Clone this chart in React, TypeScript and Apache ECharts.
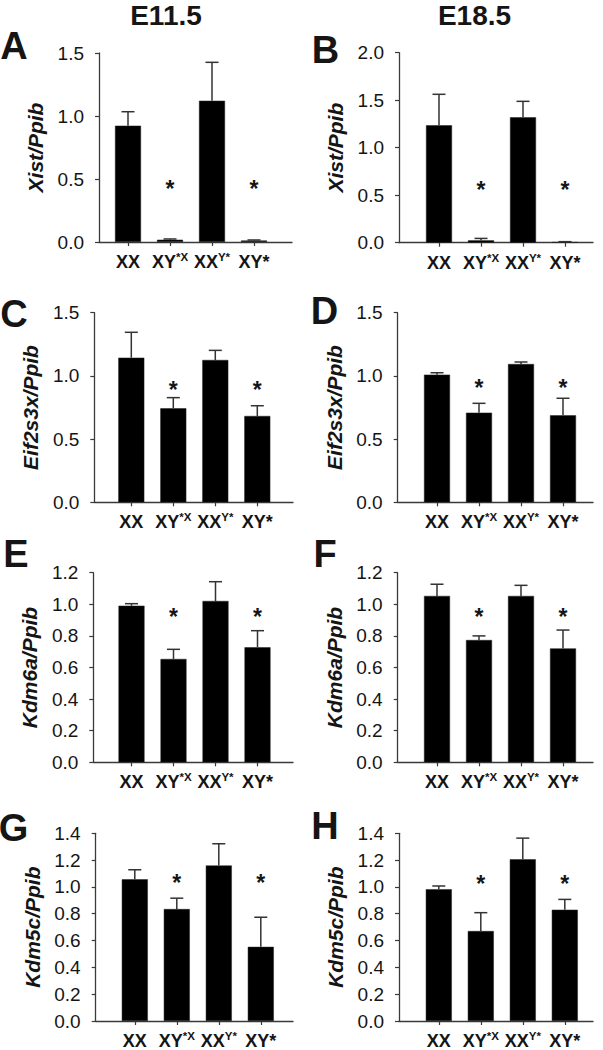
import React, { useEffect, useRef } from "react";
import * as echarts from "echarts";

// ---------- DATA ----------
const categoryBase = ["XX", "XY", "XX", "XY*"];
const categorySup = ["", "*X", "Y*", ""];
const categoryPos = [1, 2, 3, 4];
const starred = [false, true, false, true];

const columnTitles = ["E11.5", "E18.5"];
const panelLetters = ["A", "B", "C", "D", "E", "F", "G", "H"];
const yNames = [
  "Xist/Ppib",
  "Xist/Ppib",
  "Eif2s3x/Ppib",
  "Eif2s3x/Ppib",
  "Kdm6a/Ppib",
  "Kdm6a/Ppib",
  "Kdm5c/Ppib",
  "Kdm5c/Ppib",
];
const yMax = [1.5, 2.0, 1.5, 1.5, 1.2, 1.2, 1.4, 1.4];
const yStep = [0.5, 0.5, 0.5, 0.5, 0.2, 0.2, 0.2, 0.2];

// means and error-bar tops (mean + SEM)
const xistE11Mean = [0.923, 0.018, 1.121, 0.012];
const xistE11Top = [1.034, 0.024, 1.426, 0.016];
const xistE18Mean = [1.236, 0.025, 1.32, 0.007];
const xistE18Top = [1.562, 0.045, 1.488, 0.011];
const eifE11Mean = [1.144, 0.744, 1.126, 0.683];
const eifE11Top = [1.345, 0.828, 1.202, 0.764];
const eifE18Mean = [1.01, 0.709, 1.094, 0.688];
const eifE18Top = [1.025, 0.783, 1.11, 0.823];
const kdm6aE11Mean = [0.991, 0.654, 1.021, 0.728];
const kdm6aE11Top = [1.004, 0.715, 1.143, 0.833];
const kdm6aE18Mean = [1.053, 0.774, 1.053, 0.721];
const kdm6aE18Top = [1.127, 0.8, 1.12, 0.837];
const kdm5cE11Mean = [1.057, 0.835, 1.16, 0.553];
const kdm5cE11Top = [1.128, 0.916, 1.322, 0.774];
const kdm5cE18Mean = [0.983, 0.671, 1.206, 0.83];
const kdm5cE18Top = [1.007, 0.808, 1.364, 0.907];

// height (in axis units) of the significance asterisks per panel
const starLevel = [0.46, 0.607, 0.928, 0.946, 0.953, 0.953, 1.069, 1.061];

const panelMeans = [
  xistE11Mean,
  xistE18Mean,
  eifE11Mean,
  eifE18Mean,
  kdm6aE11Mean,
  kdm6aE18Mean,
  kdm5cE11Mean,
  kdm5cE18Mean,
];
const panelTops = [
  xistE11Top,
  xistE18Top,
  eifE11Top,
  eifE18Top,
  kdm6aE11Top,
  kdm6aE18Top,
  kdm5cE11Top,
  kdm5cE18Top,
];

// ---------- LAYOUT ----------
const layout = [
  { left: 99, top: 53, right: 292, bottom: 242, c1: 128 },
  { left: 399, top: 52.7, right: 593, bottom: 242.7, c1: 439 },
  { left: 94.3, top: 312.7, right: 293, bottom: 502.3, c1: 131.3 },
  { left: 397.7, top: 312.7, right: 593, bottom: 502.3, c1: 437 },
  { left: 93.3, top: 572.7, right: 293, bottom: 762.3, c1: 131.5 },
  { left: 397.7, top: 572.7, right: 593, bottom: 762.3, c1: 437 },
  { left: 95.7, top: 833.3, right: 293, bottom: 1023.3, c1: 134.8 },
  { left: 399, top: 833.3, right: 593, bottom: 1023.3, c1: 438.8 },
];
const catSpacing = 42;
const titlePos = [
  [166, 15],
  [474.5, 15],
];
const letterPos = [
  [14, 45.5],
  [325.5, 50],
  [14, 313.5],
  [324.5, 311],
  [16, 554],
  [325, 554],
  [13.5, 827.5],
  [325, 826],
];

const FONT = "Liberation Sans, Arial, sans-serif";
const AXIS_COLOR = "#3a3a3a";
const TEXT_COLOR = "#151515";

function buildOption() {
  const grid: any[] = [];
  const xAxis: any[] = [];
  const yAxis: any[] = [];
  const series: any[] = [];
  const graphic: any[] = [];

  layout.forEach((L, i) => {
    const width = L.right - L.left;
    const xmin = 1 - (L.c1 - L.left) / catSpacing;
    const xmax = xmin + width / catSpacing;
    grid.push({
      left: L.left,
      top: L.top,
      width,
      height: L.bottom - L.top,
    });
    xAxis.push({
      type: "value",
      gridIndex: i,
      min: xmin,
      max: xmax,
      splitLine: { show: false },
      axisLine: { show: true, onZero: false, lineStyle: { color: AXIS_COLOR, width: 1.3 } },
      axisTick: {
        show: true,
        customValues: categoryPos,
        length: 4,
        lineStyle: { color: AXIS_COLOR, width: 1.2 },
      },
      axisLabel: {
        customValues: categoryPos,
        margin: 9,
        formatter: (v: number) => {
          const k = categoryPos.indexOf(Math.round(v));
          if (k < 0) return "";
          return categorySup[k]
            ? `{m|${categoryBase[k]}}{s|${categorySup[k]}}`
            : `{m|${categoryBase[k]}}`;
        },
        rich: {
          m: {
            fontSize: 18,
            fontWeight: "bold",
            fontFamily: FONT,
            color: TEXT_COLOR,
            lineHeight: 22,
          },
          s: {
            fontSize: 11.5,
            fontWeight: "bold",
            fontFamily: FONT,
            color: TEXT_COLOR,
            lineHeight: 14,
            verticalAlign: "top",
          },
        },
      },
    });
    yAxis.push({
      type: "value",
      gridIndex: i,
      min: 0,
      max: yMax[i],
      interval: yStep[i],
      name: yNames[i],
      nameLocation: "middle",
      nameRotate: 90,
      nameGap: 53,
      nameTextStyle: {
        fontSize: 21,
        fontWeight: "bold",
        fontStyle: "italic",
        fontFamily: FONT,
        color: TEXT_COLOR,
      },
      splitLine: { show: false },
      axisLine: { show: true, onZero: false, lineStyle: { color: AXIS_COLOR, width: 1.3 } },
      axisTick: { show: true, length: 4, lineStyle: { color: AXIS_COLOR, width: 1.2 } },
      axisLabel: {
        margin: 15,
        fontSize: 19,
        fontFamily: FONT,
        color: TEXT_COLOR,
        formatter: (v: number) => v.toFixed(1),
      },
    });

    const means = panelMeans[i];
    const tops = panelTops[i];
    series.push({
      type: "bar",
      xAxisIndex: i,
      yAxisIndex: i,
      barWidth: 26,
      itemStyle: { color: "#000", borderColor: "#222", borderWidth: 0.5 },
      data: categoryPos.map((c, k) => [c, means[k]]),
      z: 2,
    });
    series.push({
      type: "custom",
      xAxisIndex: i,
      yAxisIndex: i,
      z: 3,
      encode: { x: 0, y: [1, 2] },
      data: categoryPos.map((c, k) => [c, means[k], tops[k]]),
      renderItem: (params: any, api: any) => {
        const p0 = api.coord([api.value(0), api.value(1)]);
        const p1 = api.coord([api.value(0), api.value(2)]);
        const st = { stroke: "#333", lineWidth: 1.5 };
        return {
          type: "group",
          children: [
            { type: "line", shape: { x1: p0[0], y1: p0[1], x2: p1[0], y2: p1[1] }, style: st },
            { type: "line", shape: { x1: p1[0] - 6.5, y1: p1[1], x2: p1[0] + 6.5, y2: p1[1] }, style: st },
          ],
        };
      },
    });
    series.push({
      type: "custom",
      xAxisIndex: i,
      yAxisIndex: i,
      z: 4,
      encode: { x: 0, y: 1 },
      data: categoryPos.filter((_, k) => starred[k]).map((c) => [c, starLevel[i]]),
      renderItem: (params: any, api: any) => {
        const p = api.coord([api.value(0), api.value(1)]);
        return {
          type: "text",
          x: p[0],
          y: p[1] + 5,
          style: {
            text: "*",
            fontSize: 23,
            fontWeight: "bold",
            fontFamily: FONT,
            fill: TEXT_COLOR,
            align: "center",
            verticalAlign: "middle",
          },
        };
      },
    });

    graphic.push({
      type: "text",
      x: letterPos[i][0],
      y: letterPos[i][1],
      style: {
        text: panelLetters[i],
        fontSize: 38,
        fontWeight: "bold",
        fontFamily: FONT,
        fill: TEXT_COLOR,
        align: "center",
        verticalAlign: "middle",
      },
    });
  });

  columnTitles.forEach((t, j) => {
    graphic.push({
      type: "text",
      x: titlePos[j][0],
      y: titlePos[j][1],
      style: {
        text: t,
        fontSize: 28,
        fontWeight: "bold",
        fontFamily: FONT,
        fill: TEXT_COLOR,
        align: "center",
        verticalAlign: "middle",
      },
    });
  });

  return {
    animation: false,
    backgroundColor: "#ffffff",
    grid,
    xAxis,
    yAxis,
    series,
    graphic,
  };
}

export default function App() {
  const ref = useRef<HTMLDivElement>(null);
  useEffect(() => {
    if (!ref.current) return;
    const chart = echarts.init(ref.current, null, { renderer: "svg", width: 603, height: 1050 });
    chart.setOption(buildOption());
    return () => chart.dispose();
  }, []);
  return (
    <div
      ref={ref}
      style={{ position: "absolute", left: 0, top: 0, width: 603, height: 1050, background: "#fff" }}
    />
  );
}
